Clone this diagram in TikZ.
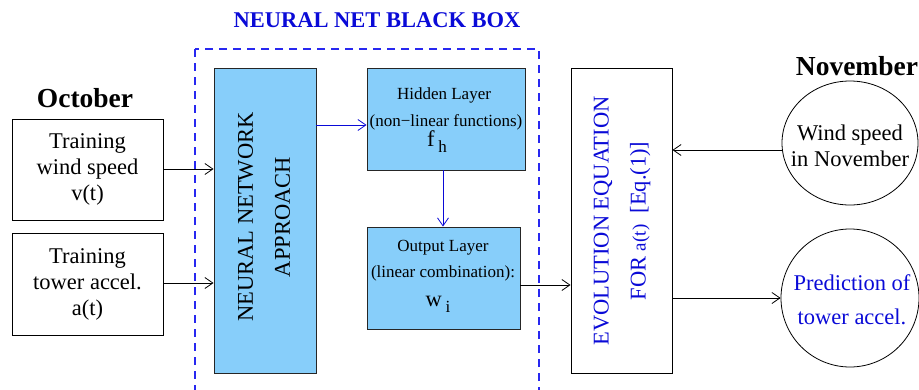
\documentclass[tikz,border=0pt]{standalone}
\usepackage{fontspec}
\setmainfont{Liberation Serif}
\usetikzlibrary{arrows.meta,shapes.geometric,calc}
\definecolor{boxblue}{RGB}{135,206,250}
\definecolor{nblue}{RGB}{10,10,215}
\definecolor{dblue}{RGB}{40,40,240}
\tikzset{
  plain/.style={draw=black,line width=0.9pt,fill=white,inner sep=0pt},
  bluebox/.style={draw=black!85,line width=0.9pt,fill=boxblue,inner sep=0pt},
  big/.style={font=\fontsize{22.5}{26}\selectfont},
  small/.style={font=\fontsize{17}{20}\selectfont},
  arr/.style={-{Straight Barb[length=8pt,width=11pt]},line width=0.8pt},
  txt/.style={inner sep=0pt,align=center},
  blackbox/.style={draw=dblue,dash pattern=on 8pt off 6pt,line width=1.4pt}
}
\begin{document}
\begin{tikzpicture}[x=1pt,y=-1pt]
\useasboundingbox (0,0) rectangle (919,389);
\begin{scope}
\clip (0,0) rectangle (919,389);
\coordinate (bbnw) at (195,49);
\coordinate (bbse) at (539,400);
\draw[blackbox] (bbnw) rectangle (bbse);
\end{scope}
\node[txt,text=nblue,font=\bfseries\fontsize{22.5}{26}\selectfont] (title) at (377,20) {NEURAL NET BLACK BOX};
\node[txt,font=\bfseries\fontsize{27.5}{30}\selectfont] (oct) at (85,98) {October};
\node[txt,font=\bfseries\fontsize{27.5}{30}\selectfont] (nov) at (857,66) {November};
% left boxes
\node[plain,minimum width=151pt,minimum height=101pt] (tw) at (87.5,169.5) {};
\node[txt,big] (twt) at (87.5,169) {Training\\wind speed\\v(t)};
\node[plain,minimum width=151pt,minimum height=102pt] (ta) at (87.5,284) {};
\node[txt,big] (tat) at (87.5,284) {Training\\tower accel.\\a(t)};
% NN box
\node[bluebox,minimum width=102pt,minimum height=305pt] (nn) at (265,220.5) {};
\node[txt,big,rotate=90,font=\fontsize{22.5}{37}\selectfont] (nnt) at (264,217) {NEURAL NETWORK\\APPROACH};
% hidden
\node[bluebox,minimum width=158pt,minimum height=102pt] (hid) at (446,119) {};
\node[txt,small] (h1) at (444,95) {Hidden Layer};
\node[txt,small] (h2) at (446,122) {(non−linear functions)};
\node[txt,big] (h3) at (437,142) {f\,\raisebox{-6pt}{\fontsize{17}{17}\selectfont h}};
% output
\node[bluebox,minimum width=153pt,minimum height=102pt] (out) at (443.5,278) {};
\node[txt,small] (o1) at (443,248) {Output Layer};
\node[txt,small] (o2) at (443,273) {(linear combination):};
\node[txt,big] (o3) at (438,304) {w\,\raisebox{-6pt}{\fontsize{17}{17}\selectfont i}};
% evolution
\node[plain,minimum width=101pt,minimum height=305pt] (evo) at (621.5,220.5) {};
\node[txt,rotate=90,text=nblue,font=\fontsize{22.5}{37}\selectfont] (evt) at (622,221) {EVOLUTION EQUATION\\FOR {\fontsize{19}{19}\selectfont a(t)}\ \ [Eq.(1)]};
% circles
\node[draw=black,line width=0.8pt,ellipse,minimum width=136pt,minimum height=124pt,inner sep=0pt] (wind) at (850,143) {};
\node[txt,big] (wt) at (850,146) {Wind speed\\in November};
\node[draw=black,line width=0.8pt,circle,minimum size=138pt,inner sep=0pt] (pred) at (850,298) {};
\node[txt,big,text=nblue,font=\fontsize{22.5}{34}\selectfont] (pt) at (852,300) {Prediction of\\tower accel.};
% connectors
\draw[arr] (tw.east |- 0,169) -- (nn.west |- 0,169);
\draw[arr] (ta.east |- 0,283) -- (nn.west |- 0,283);
\coordinate (c1) at (nn.east |- 0,125);
\draw[arr,nblue] (c1) -- (c1 -| hid.west);
\draw[arr,nblue] (hid.south -| 443,0) -- (out.north -| 443,0);
\coordinate (c2) at (out.east |- 0,285);
\draw[arr] (c2) -- (c2 -| evo.west);
\coordinate (c3) at (782.4,150);
\draw[arr] (c3) -- (c3 -| evo.east);
\coordinate (c4) at (evo.east |- pred.west);
\draw[arr] (c4) -- (pred.west);
\end{tikzpicture}
\end{document}
